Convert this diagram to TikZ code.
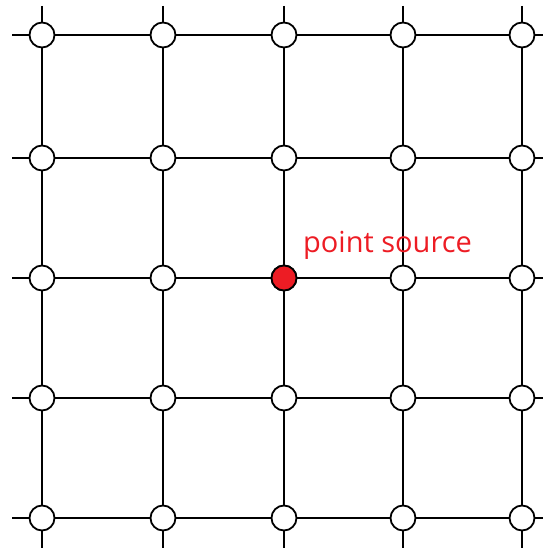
\documentclass[tikz,border=0pt]{standalone}
\usepackage{fontspec}
\setmainfont{Open Sans}
\definecolor{srcred}{HTML}{ED1C24}
\begin{document}
\begin{tikzpicture}[x=1pt,y=-1pt,
  gridline/.style={line width=2pt,black},
  site/.style={circle,draw=black,line width=1.8pt,fill=white,minimum size=25pt,inner sep=0pt},
  source/.style={site,fill=srcred},
  lbl/.style={text=srcred,font=\fontsize{29}{33}\selectfont,inner sep=0pt,anchor=base west}]
\useasboundingbox (0,0) rectangle (543,548);
% lattice lines
\foreach \x in {42,163,284,403,522} \draw[gridline] (\x,6) -- (\x,548);
\foreach \y in {35,158,278,398,518} \draw[gridline] (12,\y) -- (543,\y);
% lattice sites
\foreach \x [count=\i] in {42,163,284,403,522}
  \foreach \y [count=\j] in {35,158,278,398,518}
    \node[site] (s\i\j) at (\x,\y) {};
\node[source] (src) at (284,278) {};
\node[lbl] (lab) at (303,252) {point source};
\end{tikzpicture}
\end{document}
